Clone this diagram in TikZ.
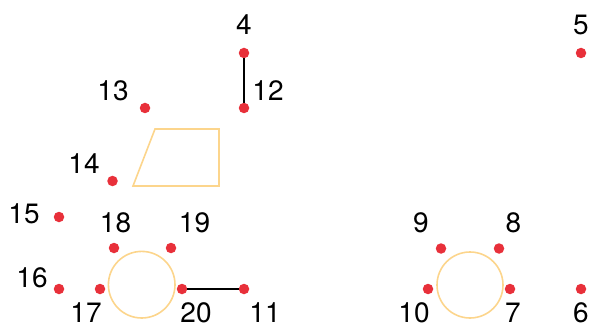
\documentclass[tikz,border=0pt]{standalone}
\usepackage{fontspec}
\setmainfont{TeX Gyre Heros}
\definecolor{dotred}{HTML}{E8303A}
\definecolor{shapeor}{HTML}{FCD58C}
\begin{document}
\begin{tikzpicture}[x=1pt,y=-1pt,
  pt/.style={circle,fill=dotred,inner sep=0pt,minimum size=10.5pt},
  lbl/.style={inner sep=0pt,anchor=center,font=\fontsize{28}{30}\selectfont},
  shp/.style={draw=shapeor,line width=1.6pt},
  conn/.style={draw=black,line width=2pt}]
\useasboundingbox (0,0) rectangle (591,323);
% shapes
\draw[shp] (133,186) -- (155,129) -- (219,129) -- (219,186) -- cycle;
\draw[shp] (141.7,284.7) circle (33.3);
\draw[shp] (470,285) circle (33);
% points
\node[pt] (p4) at (244,53) {};
\node[pt] (p12) at (244,108) {};
\node[pt] (p13) at (145,108) {};
\node[pt] (p14) at (112.5,181) {};
\node[pt] (p15) at (59,217) {};
\node[pt] (p16) at (59,289) {};
\node[pt] (p17) at (100,289) {};
\node[pt] (p18) at (114,248) {};
\node[pt] (p19) at (171,248) {};
\node[pt] (p20) at (182,289) {};
\node[pt] (p11) at (244,289) {};
\node[pt] (p9) at (441,248.5) {};
\node[pt] (p8) at (499,248.5) {};
\node[pt] (p10) at (428,289) {};
\node[pt] (p7) at (510,289) {};
\node[pt] (p6) at (581,289) {};
\node[pt] (p5) at (581,53) {};
% connectors
\draw[conn,line width=2.4pt] (p4) -- (p12);
\draw[conn] (p20) -- (p11);
% labels
\node[lbl] (l4) at (244,24.5) {4};
\node[lbl] (l12) at (268,91) {12};
\node[lbl] (l13) at (113,91) {13};
\node[lbl] (l14) at (84,163.5) {14};
\node[lbl] (l15) at (24,213.5) {15};
\node[lbl] (l18) at (115.5,223) {18};
\node[lbl] (l19) at (194.5,223) {19};
\node[lbl] (l16) at (32,277.5) {16};
\node[lbl] (l17) at (86,312.5) {17};
\node[lbl] (l20) at (196,312.5) {20};
\node[lbl] (l11) at (265,312.5) {11};
\node[lbl] (l9) at (421,223) {9};
\node[lbl] (l8) at (513.5,223) {8};
\node[lbl] (l10) at (414,312.5) {10};
\node[lbl] (l7) at (513,312.5) {7};
\node[lbl] (l6) at (581,312.5) {6};
\node[lbl] (l5) at (581,24.5) {5};
\end{tikzpicture}
\end{document}
